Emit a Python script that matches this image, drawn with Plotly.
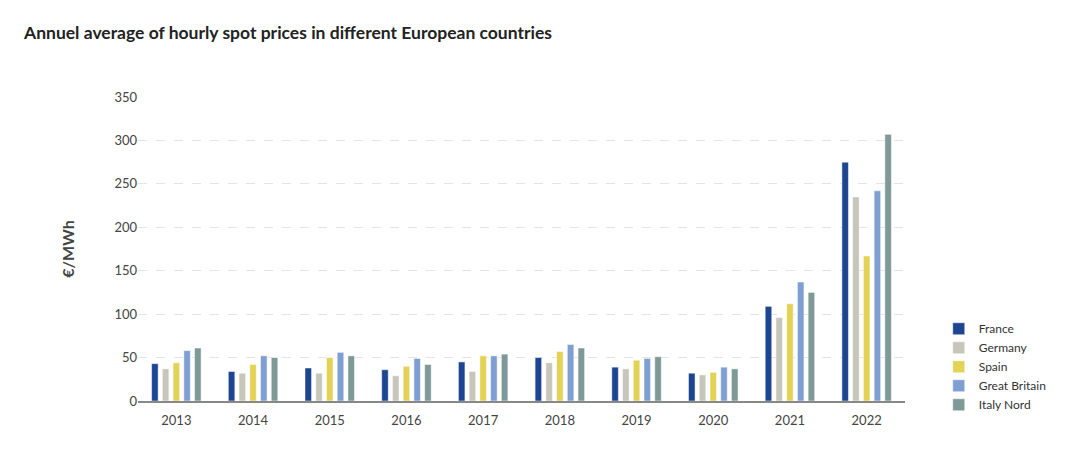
import plotly.graph_objects as go

years = ["2013", "2014", "2015", "2016", "2017", "2018", "2019", "2020", "2021", "2022"]

france = [43, 34, 38, 36, 45, 50, 39, 32, 109, 275]
germany = [37, 32, 32, 29, 34, 44, 37, 30, 96, 235]
spain = [44, 42, 50, 40, 52, 57, 47, 33, 112, 167]
great_britain = [58, 52, 56, 49, 52, 65, 49, 39, 137, 242]
italy_nord = [61, 50, 52, 42, 54, 61, 51, 37, 125, 307]

series = [
    ("France", france, "#1d4592"),
    ("Germany", germany, "#c6c6bb"),
    ("Spain", spain, "#e2d356"),
    ("Great Britain", great_britain, "#7f9fd3"),
    ("Italy Nord", italy_nord, "#7f9996"),
]

fig = go.Figure()
for name, vals, color in series:
    fig.add_trace(go.Bar(x=years, y=vals, name=name,
                         marker=dict(color=color, line=dict(color="white", width=0.5))))

fig.update_layout(
    width=1090, height=467,
    barmode="group", bargap=0.30, bargroupgap=0.39,
    plot_bgcolor="white", paper_bgcolor="white",
    font=dict(family="Lato, sans-serif", size=12, color="#444"),
    margin=dict(l=130, r=193, t=89, b=74),
    title=dict(text="<b>Annuel average of hourly spot prices in different European countries</b>",
               x=0.0147, xanchor="left", y=0.946, yanchor="middle",
               font=dict(size=17.5, color="#222")),
    legend=dict(x=1.044, xanchor="left", y=-0.06, yanchor="bottom",
                font=dict(size=12, color="#333"), tracegroupgap=0,
                itemwidth=30),
    xaxis=dict(showline=True, linecolor="#888", linewidth=1.5, ticks="",
               ticklabelstandoff=7, tickfont=dict(size=13, color="#444")),
    yaxis=dict(range=[0, 350], dtick=50, showgrid=True, gridcolor="#e4e4e4",
               griddash="dash", zeroline=False, ticks="", ticklen=0,
               tickfont=dict(size=13, color="#444"),
               title=dict(text="<b>€/MWh</b>", font=dict(size=16, color="#444", weight=700),
                          standoff=35)),
)

fig.write_html("out.html")
